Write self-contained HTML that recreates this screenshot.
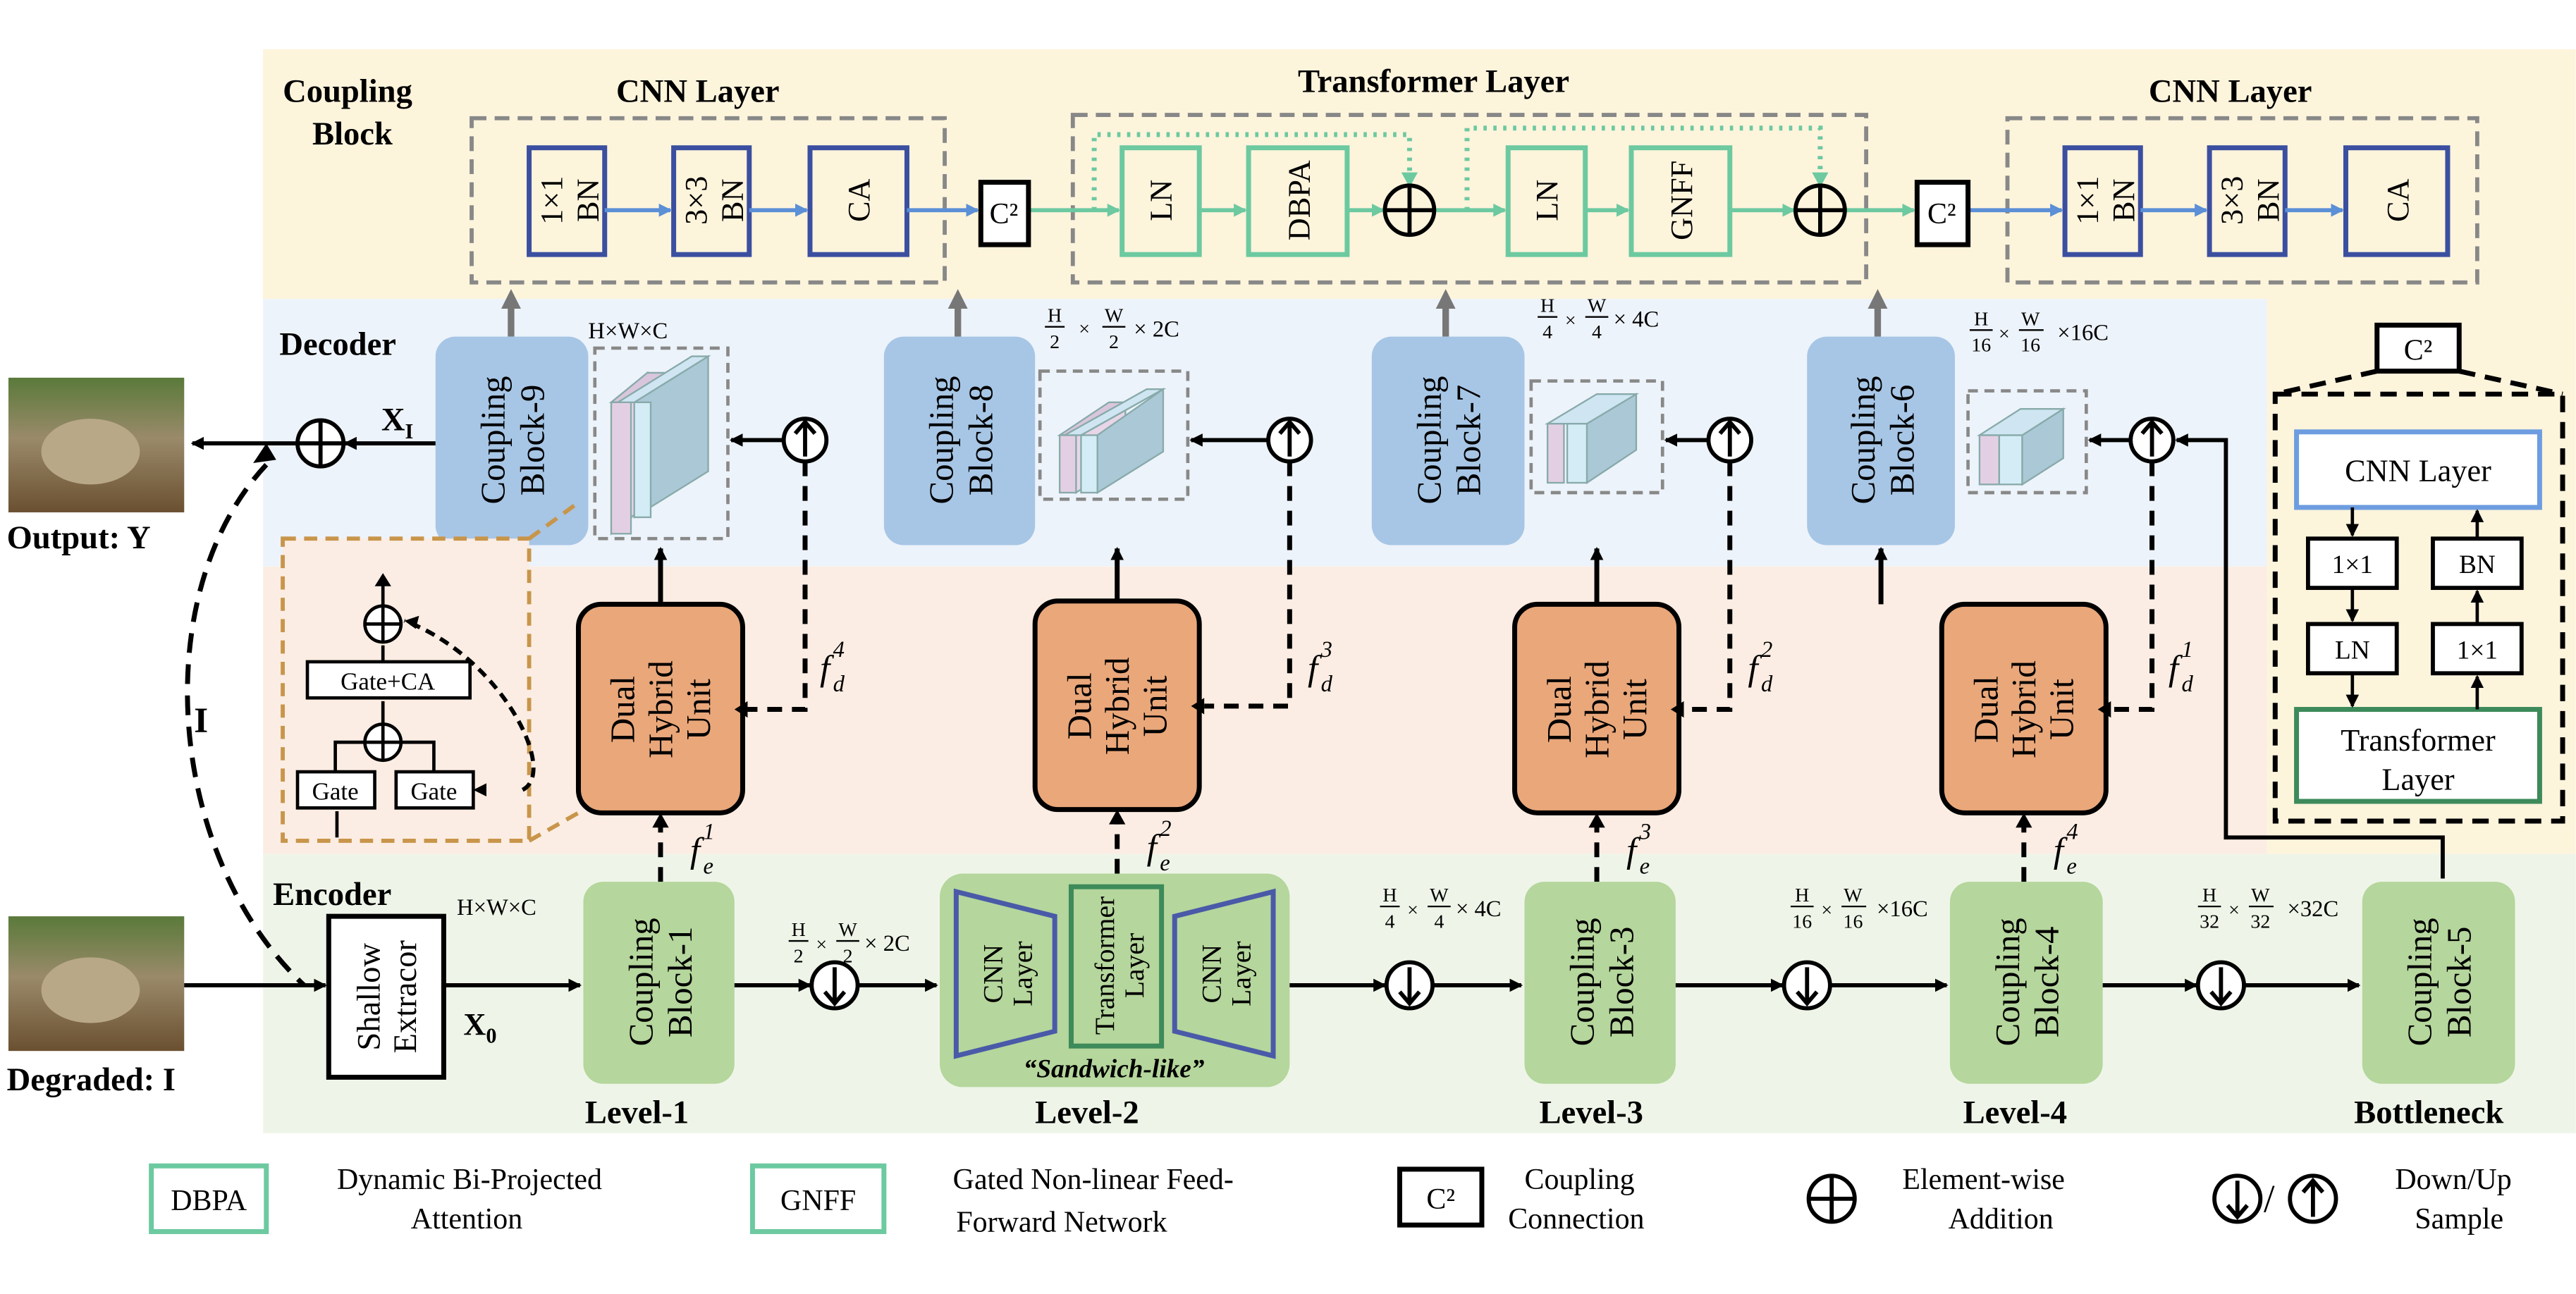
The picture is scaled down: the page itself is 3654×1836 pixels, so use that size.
<!DOCTYPE html>
<html><head><meta charset="utf-8"><style>html,body{margin:0;padding:0;background:#fff}svg{display:block}</style></head><body>
<svg xmlns="http://www.w3.org/2000/svg" width="3654" height="1836" viewBox="0 0 1568 788" font-family="Liberation Serif, serif">
<defs>
<marker id="ab" markerWidth="8" markerHeight="8" refX="7" refY="4" orient="auto" markerUnits="userSpaceOnUse"><path d="M0,0 L8,4 L0,8z" fill="#000"/></marker>
<marker id="ag" markerWidth="12" markerHeight="12" refX="6" refY="6" orient="auto" markerUnits="userSpaceOnUse"><path d="M0,0 L12,6 L0,12z" fill="#777"/></marker>
<marker id="abl" markerWidth="8" markerHeight="8" refX="7" refY="4" orient="auto" markerUnits="userSpaceOnUse"><path d="M0,0 L8,4 L0,8z" fill="#5b8fd6"/></marker>
<marker id="agr" markerWidth="8" markerHeight="8" refX="7" refY="4" orient="auto" markerUnits="userSpaceOnUse"><path d="M0,0 L8,4 L0,8z" fill="#6cc9a0"/></marker>
<linearGradient id="img" x1="0" y1="0" x2="0" y2="1"><stop offset="0" stop-color="#5a7a3a"/><stop offset="0.45" stop-color="#9a8a6a"/><stop offset="1" stop-color="#6a5030"/></linearGradient>
</defs>
<rect x="160" y="30" width="1408" height="152" fill="#fdf4dc"/>
<rect x="1380" y="182" width="188" height="338" fill="#fdf4dc"/>
<rect x="160" y="182" width="1220" height="163" fill="#edf3fa"/>
<rect x="160" y="345" width="1220" height="175" fill="#fbede3"/>
<rect x="160" y="520" width="1408" height="170" fill="#eef5e8"/>

<g font-weight="bold" font-size="20">
<text x="172" y="62">Coupling</text><text x="190" y="88">Block</text>
<text x="375" y="62">CNN Layer</text>
<text x="790" y="56">Transformer Layer</text>
<text x="1308" y="62">CNN Layer</text>
<text x="170" y="216">Decoder</text>
<text x="166" y="551">Encoder</text>
<text x="356" y="684">Level-1</text>
<text x="630" y="684">Level-2</text>
<text x="937" y="684">Level-3</text>
<text x="1195" y="684">Level-4</text>
<text x="1433" y="684">Bottleneck</text>
<text x="4" y="334">Output:  Y</text>
<text x="4" y="664">Degraded: I</text>
</g>

<g fill="none" stroke="#888" stroke-width="2.5" stroke-dasharray="9,5">
<rect x="287" y="72" width="288" height="100"/>
<rect x="653" y="70" width="483" height="102"/>
<rect x="1222" y="72" width="286" height="100"/>
</g>
<g fill="#fdf4dc" stroke="#3b4fa0" stroke-width="3">
<rect x="322" y="90" width="46" height="65"/><rect x="410" y="90" width="46" height="65"/><rect x="493" y="90" width="59" height="65"/>
<rect x="1257" y="90" width="46" height="65"/><rect x="1345" y="90" width="46" height="65"/><rect x="1428" y="90" width="62" height="65"/>
</g>
<g fill="#fdf4dc" stroke="#6cc9a0" stroke-width="3">
<rect x="683" y="90" width="47" height="65"/><rect x="760" y="90" width="60" height="65"/>
<rect x="918" y="90" width="47" height="65"/><rect x="993" y="90" width="60" height="65"/>
</g>
<g font-size="19" text-anchor="middle">
<text transform="translate(345,122) rotate(-90)"><tspan x="0" y="-3">1×1</tspan><tspan x="0" y="19">BN</tspan></text>
<text transform="translate(433,122) rotate(-90)"><tspan x="0" y="-3">3×3</tspan><tspan x="0" y="19">BN</tspan></text>
<text transform="translate(529,122) rotate(-90)">CA</text>
<text transform="translate(1280,122) rotate(-90)"><tspan x="0" y="-3">1×1</tspan><tspan x="0" y="19">BN</tspan></text>
<text transform="translate(1368,122) rotate(-90)"><tspan x="0" y="-3">3×3</tspan><tspan x="0" y="19">BN</tspan></text>
<text transform="translate(1466,122) rotate(-90)">CA</text>
<text transform="translate(713,122) rotate(-90)">LN</text>
<text transform="translate(797,122) rotate(-90)">DBPA</text>
<text transform="translate(948,122) rotate(-90)">LN</text>
<text transform="translate(1030,122) rotate(-90)">GNFF</text>
</g>
<g stroke="#5b8fd6" stroke-width="2.5" marker-end="url(#abl)">
<line x1="368" y1="128" x2="408" y2="128"/><line x1="456" y1="128" x2="491" y2="128"/><line x1="552" y1="128" x2="595" y2="128"/>
<line x1="1198" y1="128" x2="1255" y2="128"/><line x1="1303" y1="128" x2="1343" y2="128"/><line x1="1391" y1="128" x2="1426" y2="128"/>
</g>
<g stroke="#6cc9a0" stroke-width="2.5" marker-end="url(#agr)">
<line x1="626" y1="128" x2="681" y2="128"/><line x1="730" y1="128" x2="758" y2="128"/><line x1="820" y1="128" x2="842" y2="128"/>
<line x1="873" y1="128" x2="916" y2="128"/><line x1="965" y1="128" x2="991" y2="128"/><line x1="1053" y1="128" x2="1092" y2="128"/>
<line x1="1123" y1="128" x2="1165" y2="128"/>
</g>
<g fill="none" stroke="#6cc9a0" stroke-width="3" stroke-dasharray="2,4">
<polyline points="666,128 666,82 858,82 858,110"/>
<polyline points="893,128 893,78 1108,78 1108,110"/>
</g>
<path d="M853,105 L858,114 L863,105z M1103,105 L1108,114 L1113,105z" fill="#6cc9a0"/>
<g fill="none" stroke="#000" stroke-width="2.5">
<circle cx="858" cy="128" r="15"/><line x1="843" y1="128" x2="873" y2="128"/><line x1="858" y1="113" x2="858" y2="143"/>
<circle cx="1108" cy="128" r="15"/><line x1="1093" y1="128" x2="1123" y2="128"/><line x1="1108" y1="113" x2="1108" y2="143"/>
</g>
<g fill="#fff" stroke="#000" stroke-width="3">
<rect x="597" y="111" width="29" height="38"/><rect x="1167" y="111" width="31" height="38"/>
</g>
<g font-size="18" text-anchor="middle"><text x="611" y="136">C²</text><text x="1182" y="136">C²</text></g>

<g stroke="#777" stroke-width="4" marker-end="url(#ag)">
<line x1="311" y1="205" x2="311" y2="182"/><line x1="583" y1="205" x2="583" y2="182"/><line x1="880" y1="205" x2="880" y2="182"/><line x1="1143" y1="205" x2="1143" y2="182"/>
</g>

<g fill="#a7c6e6">
<rect x="265" y="205" width="93" height="127" rx="12"/><rect x="538" y="205" width="92" height="127" rx="12"/>
<rect x="835" y="205" width="93" height="127" rx="12"/><rect x="1100" y="205" width="90" height="127" rx="12"/>
</g>
<g font-size="21" text-anchor="middle">
<text transform="translate(311,268) rotate(-90)"><tspan x="0" y="-4">Coupling</tspan><tspan x="0" y="20">Block-9</tspan></text>
<text transform="translate(584,268) rotate(-90)"><tspan x="0" y="-4">Coupling</tspan><tspan x="0" y="20">Block-8</tspan></text>
<text transform="translate(881,268) rotate(-90)"><tspan x="0" y="-4">Coupling</tspan><tspan x="0" y="20">Block-7</tspan></text>
<text transform="translate(1145,268) rotate(-90)"><tspan x="0" y="-4">Coupling</tspan><tspan x="0" y="20">Block-6</tspan></text>
</g>
<g fill="none" stroke="#888" stroke-width="2" stroke-dasharray="6,4">
<rect x="362" y="212" width="81" height="116"/><rect x="633" y="226" width="90" height="78"/><rect x="932" y="232" width="80" height="68"/><rect x="1198" y="238" width="72" height="62"/>
</g>
<g stroke="#8aa" stroke-width="1">
<path d="M372,245 l22,-18 v80 l-22,18z" fill="#e8d6e8"/><path d="M372,245 l22,-18 h12 l-22,18z" fill="#d9c6dc"/><rect x="372" y="245" width="12" height="80" fill="#e3cfe3"/>
<path d="M386,245 l45,-28 v70 l-45,28z" fill="#aac8d6"/><path d="M386,245 l45,-28 h-10 l-45,28z" fill="#cfe6f2"/><rect x="386" y="245" width="10" height="70" fill="#d4ecf6"/>
<path d="M645,265 l30,-20 h10 l-30,20z" fill="#d9c6dc"/><rect x="645" y="265" width="10" height="35" fill="#e3cfe3"/><path d="M655,265 l30,-20 v35 l-30,20z" fill="#e8d6e8"/>
<path d="M658,265 l50,-28 h-10 l-50,28z" fill="#cfe6f2"/><rect x="658" y="265" width="10" height="35" fill="#d4ecf6"/><path d="M668,265 l40,-28 v38 l-40,25z" fill="#aac8d6"/>
<rect x="942" y="258" width="10" height="36" fill="#e3cfe3"/><rect x="954" y="258" width="12" height="36" fill="#d4ecf6"/><path d="M966,258 l30,-18 v34 l-30,20z" fill="#aac8d6"/><path d="M942,258 l30,-18 h24 l-30,18z" fill="#cfe6f2"/>
<rect x="1205" y="265" width="12" height="30" fill="#e3cfe3"/><rect x="1217" y="265" width="14" height="30" fill="#d4ecf6"/><path d="M1231,265 l25,-16 v30 l-25,16z" fill="#aac8d6"/><path d="M1205,265 l25,-16 h26 l-25,16z" fill="#cfe6f2"/>
</g>
<text x="358" y="206" font-size="14">H×W×C</text>
<g font-size="12" text-anchor="middle">
<text x="642" y="196">H</text><line x1="636" y1="199" x2="648" y2="199" stroke="#000"/><text x="642" y="212">2</text><text x="660" y="204">×</text>
<text x="678" y="196">W</text><line x1="671" y1="199" x2="685" y2="199" stroke="#000"/><text x="678" y="212">2</text><text x="704" y="205" font-size="14">× 2C</text>
<text x="942" y="190">H</text><line x1="936" y1="193" x2="948" y2="193" stroke="#000"/><text x="942" y="206">4</text><text x="956" y="199">×</text>
<text x="972" y="190">W</text><line x1="965" y1="193" x2="979" y2="193" stroke="#000"/><text x="972" y="206">4</text><text x="996" y="199" font-size="14">× 4C</text>
<text x="1206" y="198">H</text><line x1="1199" y1="201" x2="1213" y2="201" stroke="#000"/><text x="1206" y="214">16</text><text x="1220" y="207">×</text>
<text x="1236" y="198">W</text><line x1="1229" y1="201" x2="1244" y2="201" stroke="#000"/><text x="1236" y="214">16</text><text x="1268" y="207" font-size="14">×16C</text>
</g>

<g fill="#fff" stroke="#000" stroke-width="2.5">
<circle cx="490" cy="268" r="13"/><circle cx="785" cy="268" r="13"/><circle cx="1053" cy="268" r="13"/><circle cx="1310" cy="268" r="13"/>
</g>
<g stroke="#000" stroke-width="2.5" fill="none">
<path d="M490,278 V258 M484,264 L490,257 L496,264"/><path d="M785,278 V258 M779,264 L785,257 L791,264"/>
<path d="M1053,278 V258 M1047,264 L1053,257 L1059,264"/><path d="M1310,278 V258 M1304,264 L1310,257 L1316,264"/>
</g>
<g stroke="#000" stroke-width="2.5" marker-end="url(#ab)">
<line x1="477" y1="268" x2="445" y2="268"/><line x1="772" y1="268" x2="725" y2="268"/><line x1="1040" y1="268" x2="1014" y2="268"/><line x1="1297" y1="268" x2="1272" y2="268"/>
<line x1="265" y1="270" x2="210" y2="270"/><line x1="180" y1="270" x2="117" y2="270"/>
</g>
<polyline points="1487,535 1487,510 1355,510 1355,268 1325,268" fill="none" stroke="#000" stroke-width="2.5" marker-end="url(#ab)"/>
<circle cx="195" cy="270" r="14" fill="#fff" stroke="#000" stroke-width="2.5"/>
<path d="M181,270 H209 M195,256 V284" stroke="#000" stroke-width="2.5"/>
<text x="232" y="262" font-size="20" font-weight="bold">X<tspan font-size="13" dy="5">I</tspan></text>

<rect x="5" y="230" width="107" height="82" fill="url(#img)"/>
<ellipse cx="55" cy="275" rx="30" ry="20" fill="#b8a888"/>
<rect x="5" y="558" width="107" height="82" fill="url(#img)"/>
<ellipse cx="55" cy="603" rx="30" ry="20" fill="#b8a888"/>

<path d="M162,283 C90,360 100,520 185,600" fill="none" stroke="#000" stroke-width="3" stroke-dasharray="12,7"/>
<path d="M168,280 l-14,2 l8,-12z" fill="#000"/>
<text x="118" y="446" font-size="22" font-weight="bold">I</text>

<g fill="#e9a77a" stroke="#000" stroke-width="3">
<rect x="352" y="368" width="100" height="127" rx="14"/><rect x="630" y="366" width="100" height="127" rx="14"/>
<rect x="922" y="368" width="100" height="127" rx="14"/><rect x="1182" y="368" width="100" height="127" rx="14"/>
</g>
<g font-size="21" text-anchor="middle">
<text transform="translate(402,432) rotate(-90)"><tspan x="0" y="-16">Dual</tspan><tspan x="0" y="7">Hybrid</tspan><tspan x="0" y="30">Unit</tspan></text>
<text transform="translate(680,430) rotate(-90)"><tspan x="0" y="-16">Dual</tspan><tspan x="0" y="7">Hybrid</tspan><tspan x="0" y="30">Unit</tspan></text>
<text transform="translate(972,432) rotate(-90)"><tspan x="0" y="-16">Dual</tspan><tspan x="0" y="7">Hybrid</tspan><tspan x="0" y="30">Unit</tspan></text>
<text transform="translate(1232,432) rotate(-90)"><tspan x="0" y="-16">Dual</tspan><tspan x="0" y="7">Hybrid</tspan><tspan x="0" y="30">Unit</tspan></text>
</g>
<g stroke="#000" stroke-width="3" marker-end="url(#ab)">
<line x1="402" y1="368" x2="402" y2="334"/><line x1="680" y1="366" x2="680" y2="334"/><line x1="972" y1="368" x2="972" y2="334"/><line x1="1145" y1="368" x2="1145" y2="334"/>
</g>
<g fill="none" stroke="#000" stroke-width="3" stroke-dasharray="9,6">
<polyline points="490,281 490,432 455,432"/><polyline points="785,281 785,430 733,430"/><polyline points="1053,281 1053,432 1025,432"/><polyline points="1310,281 1310,432 1285,432"/>
<line x1="402" y1="537" x2="402" y2="498"/><line x1="680" y1="532" x2="680" y2="496"/><line x1="972" y1="537" x2="972" y2="498"/><line x1="1232" y1="537" x2="1232" y2="498"/>
</g>
<g fill="#000"><path d="M455,427 l-8,5 l8,5z M733,425 l-8,5 l8,5z M1025,427 l-8,5 l8,5z M1285,427 l-8,5 l8,5z M397,504 l5,-9 l5,9z M675,502 l5,-9 l5,9z M967,504 l5,-9 l5,9z M1227,504 l5,-9 l5,9z"/></g>
<g font-size="22" font-style="italic">
<text x="499" y="414">f</text><text x="507" y="421" font-size="14">d</text><text x="507" y="400" font-size="14">4</text>
<text x="796" y="414">f</text><text x="804" y="421" font-size="14">d</text><text x="804" y="400" font-size="14">3</text>
<text x="1064" y="414">f</text><text x="1072" y="421" font-size="14">d</text><text x="1072" y="400" font-size="14">2</text>
<text x="1320" y="414">f</text><text x="1328" y="421" font-size="14">d</text><text x="1328" y="400" font-size="14">1</text>
<text x="420" y="525">f</text><text x="428" y="532" font-size="14">e</text><text x="428" y="511" font-size="14">1</text>
<text x="698" y="523">f</text><text x="706" y="530" font-size="14">e</text><text x="706" y="509" font-size="14">2</text>
<text x="990" y="525">f</text><text x="998" y="532" font-size="14">e</text><text x="998" y="511" font-size="14">3</text>
<text x="1250" y="525">f</text><text x="1258" y="532" font-size="14">e</text><text x="1258" y="511" font-size="14">4</text>
</g>

<rect x="172" y="328" width="150" height="184" fill="#fbede3" stroke="#c8954a" stroke-width="2.5" stroke-dasharray="8,5"/>
<line x1="322" y1="328" x2="352" y2="306" stroke="#c8954a" stroke-width="2.5" stroke-dasharray="8,5"/>
<line x1="322" y1="512" x2="352" y2="495" stroke="#c8954a" stroke-width="2.5" stroke-dasharray="8,5"/>
<g fill="#fff" stroke="#000" stroke-width="2">
<rect x="187" y="403" width="99" height="22"/><rect x="181" y="470" width="47" height="22"/><rect x="241" y="470" width="47" height="22"/>
<circle cx="233" cy="380" r="11"/><circle cx="233" cy="452" r="11"/>
</g>
<g font-size="15" text-anchor="middle"><text x="236" y="420">Gate+CA</text><text x="204" y="487">Gate</text><text x="264" y="487">Gate</text></g>
<g stroke="#000" stroke-width="2" fill="none">
<path d="M222,380 H244 M233,369 V391 M222,452 H244 M233,441 V463"/>
<line x1="233" y1="403" x2="233" y2="393"/><line x1="233" y1="441" x2="233" y2="427"/>
<polyline points="204,470 204,452 222,452"/><polyline points="264,470 264,452 244,452"/>
<line x1="233" y1="369" x2="233" y2="355"/><line x1="205" y1="510" x2="205" y2="494"/>
</g>
<path d="M318,481 C340,470 305,400 246,378" fill="none" stroke="#000" stroke-width="2.5" stroke-dasharray="6,4"/>
<path d="M288,481 l8,-4 v8z M246,378 l9,-3 l-2,8z M228,357 l5,-8 l5,8z" fill="#000"/>

<rect x="200" y="558" width="70" height="98" fill="#fff" stroke="#000" stroke-width="3"/>
<text transform="translate(235,607) rotate(-90)" font-size="20" text-anchor="middle"><tspan x="0" y="-4">Shallow</tspan><tspan x="0" y="18">Extracor</tspan></text>
<g fill="#b5d69c">
<rect x="355" y="537" width="92" height="123" rx="12"/><rect x="928" y="537" width="92" height="123" rx="12"/>
<rect x="1187" y="537" width="93" height="123" rx="12"/><rect x="1438" y="537" width="93" height="123" rx="12"/>
<rect x="572" y="532" width="213" height="130" rx="14"/>
</g>
<g font-size="21" text-anchor="middle">
<text transform="translate(401,598) rotate(-90)"><tspan x="0" y="-4">Coupling</tspan><tspan x="0" y="20">Block-1</tspan></text>
<text transform="translate(974,598) rotate(-90)"><tspan x="0" y="-4">Coupling</tspan><tspan x="0" y="20">Block-3</tspan></text>
<text transform="translate(1233,598) rotate(-90)"><tspan x="0" y="-4">Coupling</tspan><tspan x="0" y="20">Block-4</tspan></text>
<text transform="translate(1484,598) rotate(-90)"><tspan x="0" y="-4">Coupling</tspan><tspan x="0" y="20">Block-5</tspan></text>
</g>
<g fill="none" stroke="#4a5aa8" stroke-width="3">
<path d="M582,543 L642,558 V628 L582,643z"/><path d="M775,543 L715,558 V628 L775,643z"/>
</g>
<rect x="652" y="540" width="55" height="97" fill="none" stroke="#3d8a5a" stroke-width="3"/>
<g font-size="17" text-anchor="middle">
<text transform="translate(612,593) rotate(-90)"><tspan x="0" y="-2">CNN</tspan><tspan x="0" y="16">Layer</tspan></text>
<text transform="translate(745,593) rotate(-90)"><tspan x="0" y="-2">CNN</tspan><tspan x="0" y="16">Layer</tspan></text>
<text transform="translate(680,588) rotate(-90)"><tspan x="0" y="-2">Transformer</tspan><tspan x="0" y="16">Layer</tspan></text>
</g>
<text x="678" y="656" font-size="16" font-weight="bold" font-style="italic" text-anchor="middle">“Sandwich-like”</text>
<g stroke="#000" stroke-width="2.5" marker-end="url(#ab)">
<line x1="112" y1="600" x2="198" y2="600"/><line x1="270" y1="600" x2="353" y2="600"/>
<line x1="447" y1="600" x2="493" y2="600"/><line x1="523" y1="600" x2="570" y2="600"/>
<line x1="785" y1="600" x2="843" y2="600"/><line x1="873" y1="600" x2="926" y2="600"/>
<line x1="1020" y1="600" x2="1085" y2="600"/><line x1="1115" y1="600" x2="1185" y2="600"/>
<line x1="1280" y1="600" x2="1337" y2="600"/><line x1="1367" y1="600" x2="1436" y2="600"/>
</g>
<g fill="#fff" stroke="#000" stroke-width="2.5">
<circle cx="508" cy="600" r="14"/><circle cx="858" cy="600" r="14"/><circle cx="1100" cy="600" r="14"/><circle cx="1352" cy="600" r="14"/>
</g>
<g stroke="#000" stroke-width="2.5" fill="none">
<path d="M508,589 V610 M502,604 L508,611 L514,604"/><path d="M858,589 V610 M852,604 L858,611 L864,604"/>
<path d="M1100,589 V610 M1094,604 L1100,611 L1106,604"/><path d="M1352,589 V610 M1346,604 L1352,611 L1358,604"/>
</g>
<text x="282" y="630" font-size="19" font-weight="bold">X<tspan font-size="13" dy="5">0</tspan></text>
<text x="278" y="557" font-size="14">H×W×C</text>
<g font-size="12" text-anchor="middle">
<text x="486" y="570">H</text><line x1="480" y1="573" x2="492" y2="573" stroke="#000"/><text x="486" y="586">2</text><text x="500" y="579">×</text>
<text x="516" y="570">W</text><line x1="509" y1="573" x2="523" y2="573" stroke="#000"/><text x="516" y="586">2</text><text x="540" y="579" font-size="14">× 2C</text>
<text x="846" y="549">H</text><line x1="840" y1="552" x2="852" y2="552" stroke="#000"/><text x="846" y="565">4</text><text x="860" y="558">×</text>
<text x="876" y="549">W</text><line x1="869" y1="552" x2="883" y2="552" stroke="#000"/><text x="876" y="565">4</text><text x="900" y="558" font-size="14">× 4C</text>
<text x="1097" y="549">H</text><line x1="1090" y1="552" x2="1104" y2="552" stroke="#000"/><text x="1097" y="565">16</text><text x="1112" y="558">×</text>
<text x="1128" y="549">W</text><line x1="1121" y1="552" x2="1136" y2="552" stroke="#000"/><text x="1128" y="565">16</text><text x="1158" y="558" font-size="14">×16C</text>
<text x="1345" y="549">H</text><line x1="1338" y1="552" x2="1352" y2="552" stroke="#000"/><text x="1345" y="565">32</text><text x="1360" y="558">×</text>
<text x="1376" y="549">W</text><line x1="1369" y1="552" x2="1384" y2="552" stroke="#000"/><text x="1376" y="565">32</text><text x="1408" y="558" font-size="14">×32C</text>
</g>

<rect x="1447" y="198" width="50" height="28" fill="#fff" stroke="#000" stroke-width="3"/>
<text x="1472" y="219" font-size="18" text-anchor="middle">C²</text>
<rect x="1385" y="240" width="175" height="260" fill="#fdf4dc" stroke="#000" stroke-width="3" stroke-dasharray="10,6"/>
<line x1="1447" y1="226" x2="1385" y2="240" stroke="#000" stroke-width="3" stroke-dasharray="10,6"/>
<line x1="1497" y1="226" x2="1560" y2="240" stroke="#000" stroke-width="3" stroke-dasharray="10,6"/>
<rect x="1398" y="263" width="148" height="46" fill="#fff" stroke="#6d9de0" stroke-width="3"/>
<text x="1472" y="293" font-size="19" text-anchor="middle">CNN Layer</text>
<rect x="1398" y="432" width="148" height="56" fill="#fff" stroke="#3d8a5a" stroke-width="3"/>
<text x="1472" y="457" font-size="19" text-anchor="middle">Transformer</text><text x="1472" y="481" font-size="19" text-anchor="middle">Layer</text>
<g fill="#fff" stroke="#000" stroke-width="2.5">
<rect x="1405" y="328" width="54" height="30"/><rect x="1481" y="328" width="54" height="30"/>
<rect x="1405" y="380" width="54" height="30"/><rect x="1481" y="380" width="54" height="30"/>
</g>
<g font-size="16" text-anchor="middle"><text x="1432" y="349">1×1</text><text x="1508" y="349">BN</text><text x="1432" y="401">LN</text><text x="1508" y="401">1×1</text></g>
<g stroke="#000" stroke-width="2" marker-end="url(#ab)">
<line x1="1432" y1="309" x2="1432" y2="326"/><line x1="1432" y1="358" x2="1432" y2="378"/><line x1="1432" y1="410" x2="1432" y2="430"/>
<line x1="1508" y1="432" x2="1508" y2="412"/><line x1="1508" y1="380" x2="1508" y2="360"/><line x1="1508" y1="328" x2="1508" y2="311"/>
</g>

<g fill="#fff" stroke="#6cc9a0" stroke-width="3">
<rect x="92" y="710" width="70" height="40"/><rect x="458" y="710" width="80" height="40"/>
</g>
<rect x="852" y="712" width="50" height="34" fill="#fff" stroke="#000" stroke-width="3"/>
<g font-size="18">
<text x="127" y="737" text-anchor="middle">DBPA</text><text x="498" y="737" text-anchor="middle">GNFF</text><text x="877" y="736" text-anchor="middle">C²</text>
<text x="205" y="724">Dynamic Bi-Projected</text><text x="250" y="748">Attention</text>
<text x="580" y="724">Gated Non-linear Feed-</text><text x="582" y="750">Forward Network</text>
<text x="928" y="724">Coupling</text><text x="918" y="748">Connection</text>
<text x="1158" y="724">Element-wise</text><text x="1186" y="748">Addition</text>
<text x="1458" y="724">Down/Up</text><text x="1470" y="748">Sample</text>
</g>
<g fill="none" stroke="#000" stroke-width="2.5">
<circle cx="1115" cy="730" r="14"/><path d="M1101,730 H1129 M1115,716 V744"/>
<circle cx="1362" cy="730" r="14"/><path d="M1362,719 V740 M1356,734 L1362,741 L1368,734"/>
<circle cx="1408" cy="730" r="14"/><path d="M1408,741 V720 M1402,726 L1408,719 L1414,726"/>
</g>
<text x="1378" y="738" font-size="24">/</text>
</svg>
</body></html>
